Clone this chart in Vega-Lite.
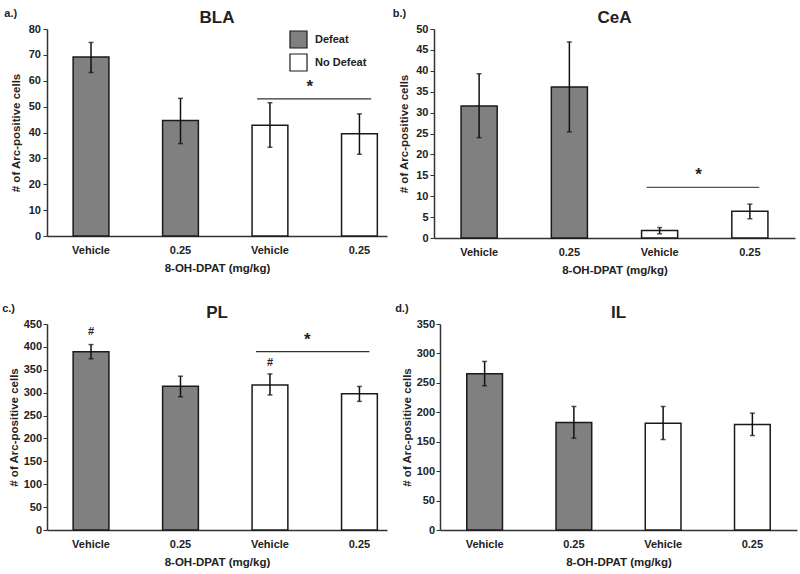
{
  "$schema": "https://vega.github.io/schema/vega-lite/v6.json",
  "background": "white",
  "padding": {"left": 2, "top": 8, "right": 2, "bottom": 2},
  "spacing": 27,
  "config": {
    "font": "Liberation Sans",
    "view": {"stroke": null},
    "axis": {"labelFont": "Liberation Sans", "labelFontWeight": "bold", "labelFontSize": 11, "labelColor": "#222", "titleFont": "Liberation Sans", "titleFontWeight": "bold", "titleFontSize": 11.5, "titleColor": "#222", "domainColor": "#333", "tickColor": "#333", "grid": false},
    "axisX": {"ticks": false, "labelAngle": 0, "labelPadding": 8, "titlePadding": 7, "domainWidth": 1.5},
    "axisY": {"tickSize": 4, "domainWidth": 1.5},
    "title": {"font": "Liberation Sans", "fontSize": 17, "fontWeight": "bold", "color": "#222"}
  },
  "resolve": {"scale": {"fill": "independent", "x": "independent", "y": "independent"}, "legend": {"fill": "independent"}},
  "vconcat": [
    {
      "spacing": 5,
      "resolve": {"scale": {"fill": "independent", "x": "independent", "y": "independent"}, "legend": {"fill": "independent"}},
      "hconcat": [
        {
          "title": {"text": "a.)", "anchor": "start", "frame": "bounds", "fontSize": 11, "fontWeight": "bold", "offset": -10, "dx": -6, "color": "#222"},
          "vconcat": [
            {
              "width": 340, "height": 207,
              "title": {"text": "BLA", "offset": -4},
              "data": {"values": [
                {"cond": "Vehicle|D", "group": "Defeat", "mean": 69.2, "lo": 63.2, "hi": 74.8},
                {"cond": "0.25|D", "group": "Defeat", "mean": 44.6, "lo": 35.7, "hi": 53.2},
                {"cond": "Vehicle|N", "group": "No Defeat", "mean": 42.8, "lo": 34.3, "hi": 51.5},
                {"cond": "0.25|N", "group": "No Defeat", "mean": 39.5, "lo": 31.6, "hi": 47.2}
              ]},
              "encoding": {
                "x": {"field": "cond", "type": "nominal", "title": "8-OH-DPAT (mg/kg)",
                  "scale": {"domain": ["Vehicle|D", "0.25|D", "Vehicle|N", "0.25|N"], "paddingInner": 0.6, "paddingOuter": 0.2, "align": 0.73},
                  "axis": {"labelExpr": "split(datum.label, '|')[0]"}}
              },
              "layer": [
                {"mark": {"type": "bar", "stroke": "#1a1a1a", "strokeWidth": 1.5},
                 "encoding": {
                   "y": {"field": "mean", "type": "quantitative", "title": "# of Arc-positive cells", "scale": {"domain": [0, 80], "nice": false}, "axis": {"values": [0, 10, 20, 30, 40, 50, 60, 70, 80], "titlePadding": 7, "labelPadding": 2.5}},
                   "fill": {"field": "group", "type": "nominal", "scale": {"domain": ["Defeat", "No Defeat"], "range": ["#808080", "#ffffff"]},
                     "legend": {"title": null, "orient": "none", "legendX": 242, "legendY": 1, "symbolType": "square", "symbolSize": 290, "symbolStrokeColor": "#1a1a1a", "symbolStrokeWidth": 1.2, "symbolOpacity": 1, "labelFont": "Liberation Sans", "labelFontSize": 11, "labelFontWeight": "bold", "labelColor": "#222", "labelOffset": 7, "rowPadding": 0, "padding": 0}}
                 }},
                {"mark": {"type": "rule", "color": "#111", "strokeWidth": 1.5}, "encoding": {"y": {"field": "lo", "type": "quantitative", "title": "# of Arc-positive cells", "axis": {"values": [0, 10, 20, 30, 40, 50, 60, 70, 80], "titlePadding": 7, "labelPadding": 2.5}}, "y2": {"field": "hi"}}},
                {"mark": {"type": "tick", "color": "#111", "size": 5, "thickness": 1.5, "orient": "horizontal"}, "encoding": {"y": {"field": "lo", "type": "quantitative", "title": "# of Arc-positive cells", "axis": {"values": [0, 10, 20, 30, 40, 50, 60, 70, 80], "titlePadding": 7, "labelPadding": 2.5}}}},
                {"mark": {"type": "tick", "color": "#111", "size": 5, "thickness": 1.5, "orient": "horizontal"}, "encoding": {"y": {"field": "hi", "type": "quantitative", "title": "# of Arc-positive cells", "axis": {"values": [0, 10, 20, 30, 40, 50, 60, 70, 80], "titlePadding": 7, "labelPadding": 2.5}}}},
                {"data": {"values": [{"from": "Vehicle|N", "to": "0.25|N", "y": 53}]},
                 "mark": {"type": "rule", "color": "#333", "strokeWidth": 1.2},
                 "encoding": {"x": {"field": "from", "type": "nominal", "bandPosition": 0.14, "title": "8-OH-DPAT (mg/kg)"}, "x2": {"field": "to", "bandPosition": 0.83}, "y": {"field": "y", "type": "quantitative", "title": "# of Arc-positive cells", "axis": {"values": [0, 10, 20, 30, 40, 50, 60, 70, 80], "titlePadding": 7, "labelPadding": 2.5}}}},
                {"data": {"values": [{"at": "Vehicle|N", "y": 57.5, "label": "*"}]},
                 "mark": {"type": "text", "fontSize": 17, "fontWeight": "bold", "color": "#222", "baseline": "middle"},
                 "encoding": {"x": {"field": "at", "type": "nominal", "bandPosition": 1.61, "title": "8-OH-DPAT (mg/kg)"}, "y": {"field": "y", "type": "quantitative", "title": "# of Arc-positive cells", "axis": {"values": [0, 10, 20, 30, 40, 50, 60, 70, 80], "titlePadding": 7, "labelPadding": 2.5}}, "text": {"field": "label"}}}
              ]
            }
          ]
        },
        {
          "title": {"text": "b.)", "anchor": "start", "frame": "bounds", "fontSize": 11, "fontWeight": "bold", "offset": -10, "dx": -6, "color": "#222"},
          "vconcat": [
            {
              "width": 361, "height": 209,
              "title": {"text": "CeA", "offset": -4},
              "data": {"values": [
                {"cond": "Vehicle|D", "group": "Defeat", "mean": 31.6, "lo": 24.0, "hi": 39.3},
                {"cond": "0.25|D", "group": "Defeat", "mean": 36.1, "lo": 25.4, "hi": 46.9},
                {"cond": "Vehicle|N", "group": "No Defeat", "mean": 1.8, "lo": 1.0, "hi": 2.5},
                {"cond": "0.25|N", "group": "No Defeat", "mean": 6.4, "lo": 4.6, "hi": 8.1}
              ]},
              "encoding": {
                "x": {"field": "cond", "type": "nominal", "title": "8-OH-DPAT (mg/kg)",
                  "scale": {"domain": ["Vehicle|D", "0.25|D", "Vehicle|N", "0.25|N"], "paddingInner": 0.6, "paddingOuter": 0.3},
                  "axis": {"labelExpr": "split(datum.label, '|')[0]"}}
              },
              "layer": [
                {"mark": {"type": "bar", "stroke": "#1a1a1a", "strokeWidth": 1.5},
                 "encoding": {
                   "y": {"field": "mean", "type": "quantitative", "title": "# of Arc-positive cells", "scale": {"domain": [0, 50], "nice": false}, "axis": {"values": [0, 5, 10, 15, 20, 25, 30, 35, 40, 45, 50], "titlePadding": 6, "labelPadding": 2}},
                   "fill": {"field": "group", "type": "nominal", "scale": {"domain": ["Defeat", "No Defeat"], "range": ["#808080", "#ffffff"]}, "legend": null}
                 }},
                {"mark": {"type": "rule", "color": "#111", "strokeWidth": 1.5}, "encoding": {"y": {"field": "lo", "type": "quantitative", "title": "# of Arc-positive cells", "axis": {"values": [0, 5, 10, 15, 20, 25, 30, 35, 40, 45, 50], "titlePadding": 6, "labelPadding": 2}}, "y2": {"field": "hi"}}},
                {"mark": {"type": "tick", "color": "#111", "size": 5, "thickness": 1.5, "orient": "horizontal"}, "encoding": {"y": {"field": "lo", "type": "quantitative", "title": "# of Arc-positive cells", "axis": {"values": [0, 5, 10, 15, 20, 25, 30, 35, 40, 45, 50], "titlePadding": 6, "labelPadding": 2}}}},
                {"mark": {"type": "tick", "color": "#111", "size": 5, "thickness": 1.5, "orient": "horizontal"}, "encoding": {"y": {"field": "hi", "type": "quantitative", "title": "# of Arc-positive cells", "axis": {"values": [0, 5, 10, 15, 20, 25, 30, 35, 40, 45, 50], "titlePadding": 6, "labelPadding": 2}}}},
                {"data": {"values": [{"from": "Vehicle|N", "to": "0.25|N", "y": 12.1}]},
                 "mark": {"type": "rule", "color": "#555", "strokeWidth": 1.2},
                 "encoding": {"x": {"field": "from", "type": "nominal", "bandPosition": 0.14, "title": "8-OH-DPAT (mg/kg)"}, "x2": {"field": "to", "bandPosition": 0.76}, "y": {"field": "y", "type": "quantitative", "title": "# of Arc-positive cells", "axis": {"values": [0, 5, 10, 15, 20, 25, 30, 35, 40, 45, 50], "titlePadding": 6, "labelPadding": 2}}}},
                {"data": {"values": [{"at": "Vehicle|N", "y": 15, "label": "*"}]},
                 "mark": {"type": "text", "fontSize": 17, "fontWeight": "bold", "color": "#222", "baseline": "middle"},
                 "encoding": {"x": {"field": "at", "type": "nominal", "bandPosition": 1.58, "title": "8-OH-DPAT (mg/kg)"}, "y": {"field": "y", "type": "quantitative", "title": "# of Arc-positive cells", "axis": {"values": [0, 5, 10, 15, 20, 25, 30, 35, 40, 45, 50], "titlePadding": 6, "labelPadding": 2}}, "text": {"field": "label"}}}
              ]
            }
          ]
        }
      ]
    },
    {
      "spacing": 8,
      "resolve": {"scale": {"fill": "independent", "x": "independent", "y": "independent"}, "legend": {"fill": "independent"}},
      "hconcat": [
        {
          "title": {"text": "c.)", "anchor": "start", "frame": "bounds", "fontSize": 11, "fontWeight": "bold", "offset": -10, "dx": -6, "color": "#222"},
          "vconcat": [
            {
              "width": 340, "height": 206,
              "title": {"text": "PL", "offset": -4},
              "data": {"values": [
                {"cond": "Vehicle|D", "group": "Defeat", "mean": 389.5, "lo": 374, "hi": 405},
                {"cond": "0.25|D", "group": "Defeat", "mean": 314, "lo": 291, "hi": 336},
                {"cond": "Vehicle|N", "group": "No Defeat", "mean": 317, "lo": 295, "hi": 341},
                {"cond": "0.25|N", "group": "No Defeat", "mean": 297.6, "lo": 281, "hi": 313.6}
              ]},
              "encoding": {
                "x": {"field": "cond", "type": "nominal", "title": "8-OH-DPAT (mg/kg)",
                  "scale": {"domain": ["Vehicle|D", "0.25|D", "Vehicle|N", "0.25|N"], "paddingInner": 0.6, "paddingOuter": 0.2, "align": 0.73},
                  "axis": {"labelExpr": "split(datum.label, '|')[0]"}}
              },
              "layer": [
                {"mark": {"type": "bar", "stroke": "#1a1a1a", "strokeWidth": 1.5},
                 "encoding": {
                   "y": {"field": "mean", "type": "quantitative", "title": "# of Arc-positive cells", "scale": {"domain": [0, 450], "nice": false}, "axis": {"values": [0, 50, 100, 150, 200, 250, 300, 350, 400, 450], "titlePadding": 4, "labelPadding": 1.5}},
                   "fill": {"field": "group", "type": "nominal", "scale": {"domain": ["Defeat", "No Defeat"], "range": ["#808080", "#ffffff"]}, "legend": null}
                 }},
                {"mark": {"type": "rule", "color": "#111", "strokeWidth": 1.5}, "encoding": {"y": {"field": "lo", "type": "quantitative", "title": "# of Arc-positive cells", "axis": {"values": [0, 50, 100, 150, 200, 250, 300, 350, 400, 450], "titlePadding": 4, "labelPadding": 1.5}}, "y2": {"field": "hi"}}},
                {"mark": {"type": "tick", "color": "#111", "size": 5, "thickness": 1.5, "orient": "horizontal"}, "encoding": {"y": {"field": "lo", "type": "quantitative", "title": "# of Arc-positive cells", "axis": {"values": [0, 50, 100, 150, 200, 250, 300, 350, 400, 450], "titlePadding": 4, "labelPadding": 1.5}}}},
                {"mark": {"type": "tick", "color": "#111", "size": 5, "thickness": 1.5, "orient": "horizontal"}, "encoding": {"y": {"field": "hi", "type": "quantitative", "title": "# of Arc-positive cells", "axis": {"values": [0, 50, 100, 150, 200, 250, 300, 350, 400, 450], "titlePadding": 4, "labelPadding": 1.5}}}},
                {"data": {"values": [{"from": "Vehicle|N", "to": "0.25|N", "y": 389.5}]},
                 "mark": {"type": "rule", "color": "#333", "strokeWidth": 1.2},
                 "encoding": {"x": {"field": "from", "type": "nominal", "bandPosition": 0.11, "title": "8-OH-DPAT (mg/kg)"}, "x2": {"field": "to", "bandPosition": 0.78}, "y": {"field": "y", "type": "quantitative", "title": "# of Arc-positive cells", "axis": {"values": [0, 50, 100, 150, 200, 250, 300, 350, 400, 450], "titlePadding": 4, "labelPadding": 1.5}}}},
                {"data": {"values": [{"at": "Vehicle|N", "y": 415, "label": "*"}]},
                 "mark": {"type": "text", "fontSize": 17, "fontWeight": "bold", "color": "#222", "baseline": "middle"},
                 "encoding": {"x": {"field": "at", "type": "nominal", "bandPosition": 1.54, "title": "8-OH-DPAT (mg/kg)"}, "y": {"field": "y", "type": "quantitative", "title": "# of Arc-positive cells", "axis": {"values": [0, 50, 100, 150, 200, 250, 300, 350, 400, 450], "titlePadding": 4, "labelPadding": 1.5}}, "text": {"field": "label"}}},
                {"data": {"values": [
                  {"at": "Vehicle|D", "y": 433, "label": "#"},
                  {"at": "Vehicle|N", "y": 364, "label": "#"}
                 ]},
                 "mark": {"type": "text", "fontSize": 11, "fontWeight": "bold", "color": "#222", "baseline": "middle"},
                 "encoding": {"x": {"field": "at", "type": "nominal", "title": "8-OH-DPAT (mg/kg)"}, "y": {"field": "y", "type": "quantitative", "title": "# of Arc-positive cells", "axis": {"values": [0, 50, 100, 150, 200, 250, 300, 350, 400, 450], "titlePadding": 4, "labelPadding": 1.5}}, "text": {"field": "label"}}}
              ]
            }
          ]
        },
        {
          "title": {"text": "d.)", "anchor": "start", "frame": "bounds", "fontSize": 11, "fontWeight": "bold", "offset": -10, "dx": -6, "color": "#222"},
          "vconcat": [
            {
              "width": 357, "height": 206,
              "title": {"text": "IL", "offset": -4},
              "data": {"values": [
                {"cond": "Vehicle|D", "group": "Defeat", "mean": 265.5, "lo": 245, "hi": 286.4},
                {"cond": "0.25|D", "group": "Defeat", "mean": 182.6, "lo": 156, "hi": 209.9},
                {"cond": "Vehicle|N", "group": "No Defeat", "mean": 181.5, "lo": 153.7, "hi": 209.9},
                {"cond": "0.25|N", "group": "No Defeat", "mean": 179.2, "lo": 160.5, "hi": 198.5}
              ]},
              "encoding": {
                "x": {"field": "cond", "type": "nominal", "title": "8-OH-DPAT (mg/kg)",
                  "scale": {"domain": ["Vehicle|D", "0.25|D", "Vehicle|N", "0.25|N"], "paddingInner": 0.6, "paddingOuter": 0.3},
                  "axis": {"labelExpr": "split(datum.label, '|')[0]"}}
              },
              "layer": [
                {"mark": {"type": "bar", "stroke": "#1a1a1a", "strokeWidth": 1.5},
                 "encoding": {
                   "y": {"field": "mean", "type": "quantitative", "title": "# of Arc-positive cells", "scale": {"domain": [0, 350], "nice": false}, "axis": {"values": [0, 50, 100, 150, 200, 250, 300, 350], "titlePadding": 4, "labelPadding": 1.5}},
                   "fill": {"field": "group", "type": "nominal", "scale": {"domain": ["Defeat", "No Defeat"], "range": ["#808080", "#ffffff"]}, "legend": null}
                 }},
                {"mark": {"type": "rule", "color": "#111", "strokeWidth": 1.5}, "encoding": {"y": {"field": "lo", "type": "quantitative", "title": "# of Arc-positive cells", "axis": {"values": [0, 50, 100, 150, 200, 250, 300, 350], "titlePadding": 4, "labelPadding": 1.5}}, "y2": {"field": "hi"}}},
                {"mark": {"type": "tick", "color": "#111", "size": 5, "thickness": 1.5, "orient": "horizontal"}, "encoding": {"y": {"field": "lo", "type": "quantitative", "title": "# of Arc-positive cells", "axis": {"values": [0, 50, 100, 150, 200, 250, 300, 350], "titlePadding": 4, "labelPadding": 1.5}}}},
                {"mark": {"type": "tick", "color": "#111", "size": 5, "thickness": 1.5, "orient": "horizontal"}, "encoding": {"y": {"field": "hi", "type": "quantitative", "title": "# of Arc-positive cells", "axis": {"values": [0, 50, 100, 150, 200, 250, 300, 350], "titlePadding": 4, "labelPadding": 1.5}}}}
              ]
            }
          ]
        }
      ]
    }
  ]
}
